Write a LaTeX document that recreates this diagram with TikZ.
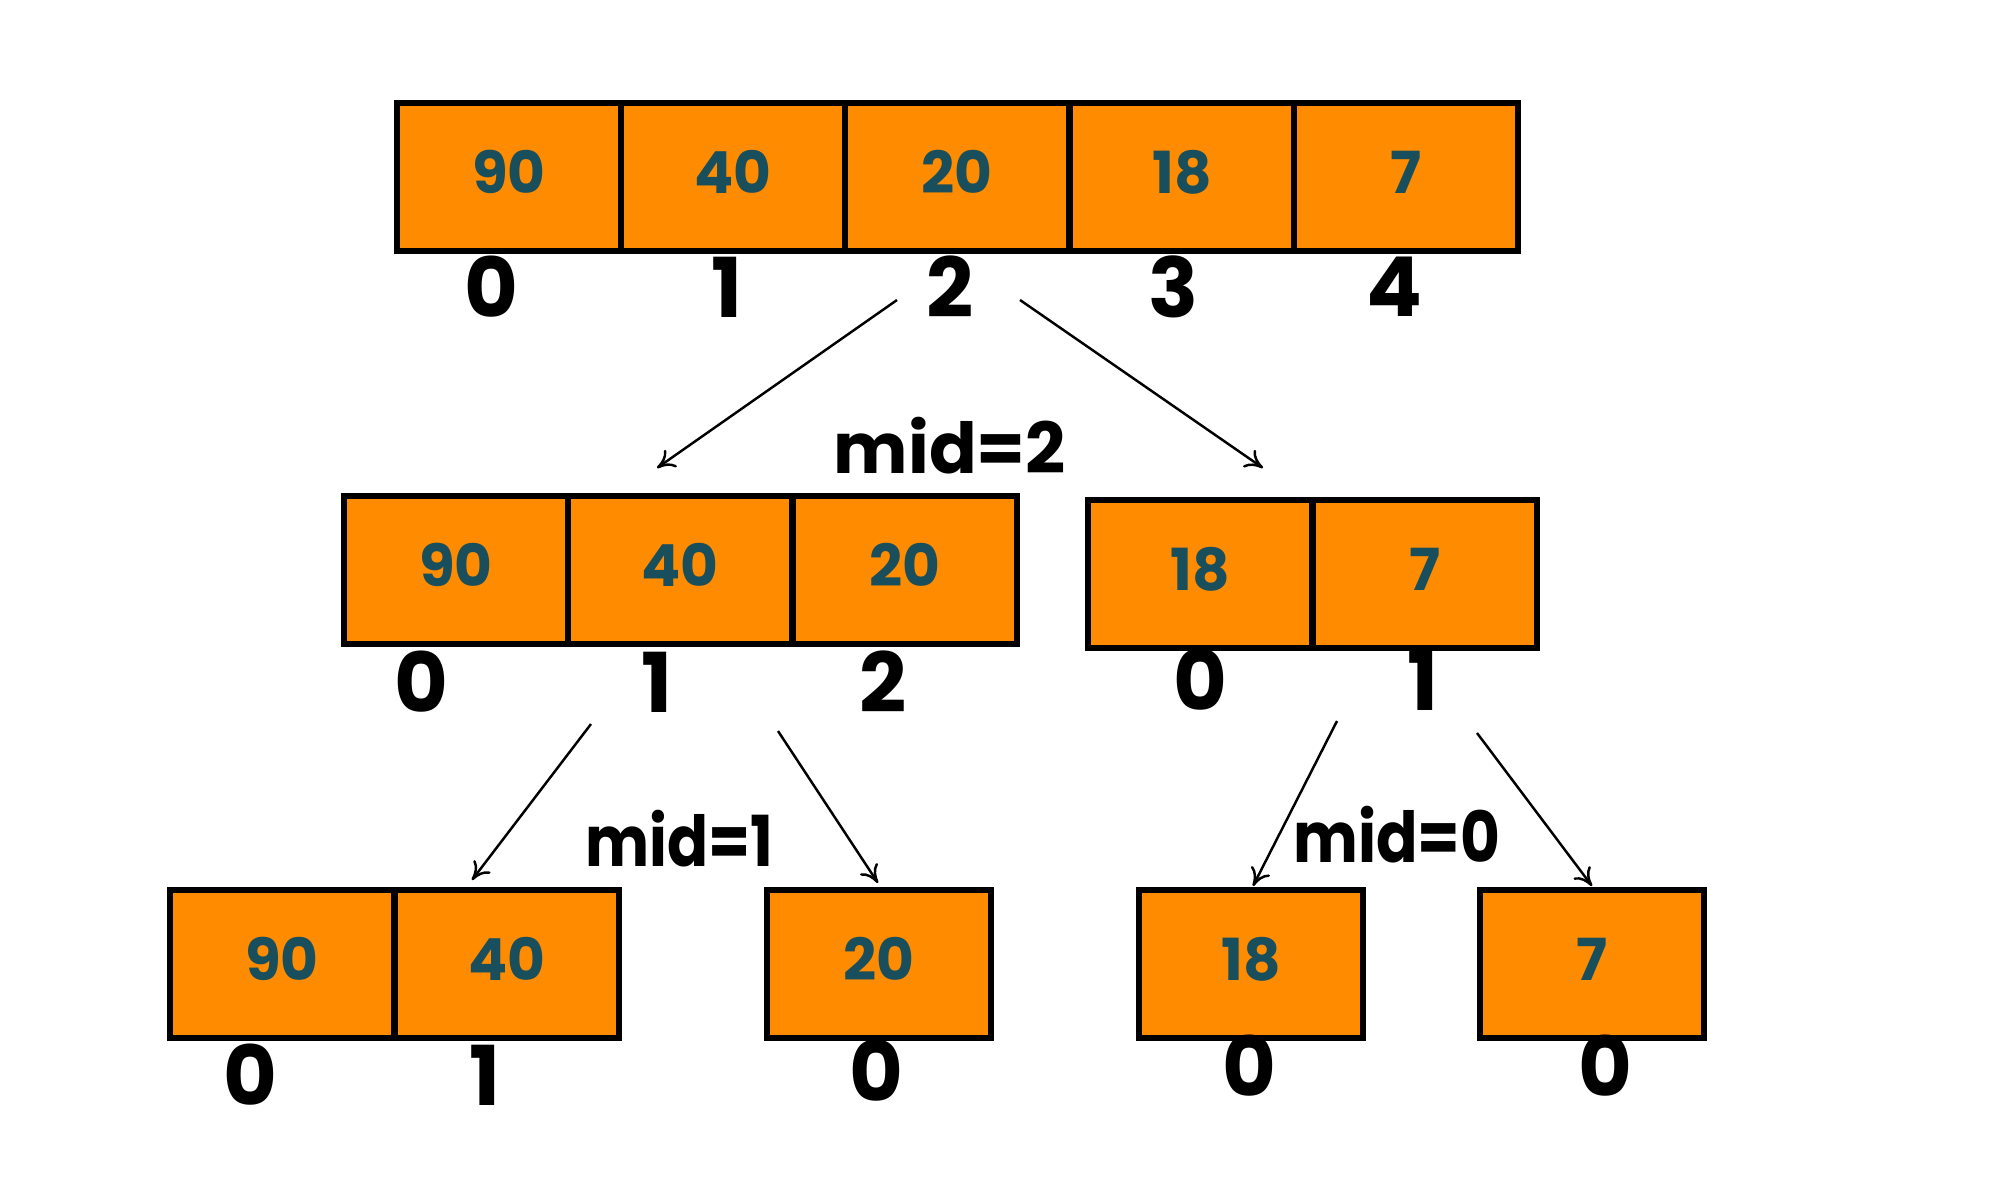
\documentclass[tikz,border=0pt]{standalone}
\usepackage{fontspec}
\setmainfont{Poppins}
\usetikzlibrary{arrows.meta}
\definecolor{cellorange}{RGB}{255,140,0}
\definecolor{valteal}{RGB}{25,78,92}
\tikzset{
  cell/.style={draw=black, line width=1.5pt, fill=cellorange, minimum width=2.24cm, minimum height=1.48cm, inner sep=0pt, text depth=0.1cm, font=\fontsize{16.5}{16.5}\selectfont\bfseries, text=valteal},
  idx/.style={font=\fontsize{23.5}{23.5}\selectfont\bfseries, inner sep=0pt},
  midlbl/.style={font=\fontsize{20}{20}\selectfont\bfseries, inner sep=0pt},
  link/.style={-{To[length=5pt,width=6pt]}, line width=0.7pt}
}
\begin{document}
\begin{tikzpicture}[x=0.01cm,y=-0.01cm]
\useasboundingbox (0,0) rectangle (2000,1200);
% top array
\node[cell] (t0) at (509,177) {90};
\node[cell] (t1) at (733,177) {40};
\node[cell] (t2) at (957,177) {20};
\node[cell] (t3) at (1182,177) {18};
\node[cell] (t4) at (1406,177) {7};
\node[idx] (ti0) at (491,287) {0};
\node[idx] (ti1) at (727,287) {1};
\node[idx] (ti2) at (950,287) {2};
\node[idx] (ti3) at (1173,287) {3};
\node[idx] (ti4) at (1394,287) {4};
\node[midlbl] (m2) at (950,446) {mid=2};
% middle left
\node[cell] (a0) at (456,570) {90};
\node[cell] (a1) at (680,570) {40};
\node[cell] (a2) at (905,570) {20};
\node[idx] (ai0) at (421,682) {0};
\node[idx] (ai1) at (657,682) {1};
\node[idx] (ai2) at (883,682) {2};
% middle right
\node[cell] (b0) at (1200,574) {18};
\node[cell] (b1) at (1425,574) {7};
\node[idx] (bi0) at (1200,680) {0};
\node[idx] (bi1) at (1423,680) {1};
\node[midlbl] (m1) at (679,839) {\scalebox{0.86}[1]{mid=1}};
\node[midlbl] (m0) at (1397,835) {\scalebox{0.87}[1]{mid=0}};
% bottom
\node[cell] (c0) at (282,964) {90};
\node[cell] (c1) at (507,964) {40};
\node[idx] (ci0) at (250,1075) {0};
\node[idx] (ci1) at (485,1075) {1};
\node[cell] (d0) at (879,964) {20};
\node[idx] (di0) at (876,1071) {0};
\node[cell] (e0) at (1251,964) {18};
\node[idx] (ei0) at (1249,1066) {0};
\node[cell] (f0) at (1592,964) {7};
\node[idx] (fi0) at (1605,1066) {0};
% arrow endpoints
\coordinate (s1) at (897,300);  \coordinate (e1) at (657,468);
\coordinate (s2) at (1020,300); \coordinate (e2) at (1263,468);
\coordinate (s3) at (591,724);  \coordinate (e3) at (472,880);
\coordinate (s4) at (778,731);  \coordinate (e4) at (878,883);
\coordinate (s5) at (1337,721); \coordinate (e5) at (1253,886);
\coordinate (s6) at (1477,733); \coordinate (e6) at (1592,886);
\draw[link] (s1) -- (e1);
\draw[link] (s2) -- (e2);
\draw[link] (s3) -- (e3);
\draw[link] (s4) -- (e4);
\draw[link] (s5) -- (e5);
\draw[link] (s6) -- (e6);
\end{tikzpicture}
\end{document}
